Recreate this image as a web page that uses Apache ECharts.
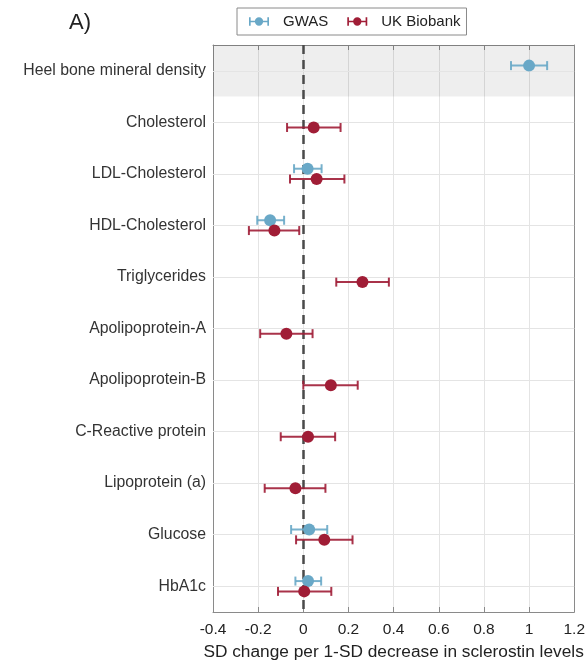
<!DOCTYPE html>
<html>
<head>
<meta charset="utf-8">
<script src="https://cdn.jsdelivr.net/npm/echarts@6/dist/echarts.min.js"></script>
<style>html,body{margin:0;padding:0;background:#fff}#c{width:588px;height:666px}</style>
</head>
<body>
<div id="c"></div>
<script>
const categories = ['Heel bone mineral density','Cholesterol','LDL-Cholesterol','HDL-Cholesterol','Triglycerides','Apolipoprotein-A','Apolipoprotein-B','C-Reactive protein','Lipoprotein (a)','Glucose','HbA1c'];
const xTicks = [-0.4, -0.2, 0, 0.2, 0.4, 0.6, 0.8, 1, 1.2];

const gwasRows = [0, 2, 3, 9, 10];
const gwasMean = [1.00, 0.019, -0.147, 0.026, 0.021];
const gwasLow  = [0.92, -0.041, -0.204, -0.054, -0.035];
const gwasHigh = [1.08, 0.081, -0.085, 0.106, 0.079];

const ukbRows = [1, 2, 3, 4, 5, 6, 7, 8, 9, 10];
const ukbMean = [0.046, 0.059, -0.128, 0.262, -0.075, 0.122, 0.021, -0.035, 0.093, 0.004];
const ukbLow  = [-0.072, -0.059, -0.241, 0.146, -0.191, 0.000, -0.100, -0.171, -0.032, -0.112];
const ukbHigh = [0.165, 0.182, -0.018, 0.379, 0.041, 0.241, 0.141, 0.098, 0.218, 0.124];

const GWAS_COLOR = '#69a8c7';
const UKB_COLOR = '#a01d36';
const FONT = 'Liberation Sans';
const rowIdx = categories.map((_, i) => i);

function build(rows, mean, low, high) {
  return rows.map((r, i) => [mean[i], low[i], high[i], r]);
}
function makeRender(color, offset) {
  return function (params, api) {
    const y = api.value(3) + offset;
    const c = api.coord([api.value(0), y]);
    const lo = api.coord([api.value(1), y]);
    const hi = api.coord([api.value(2), y]);
    const h = 4.5;
    const st = { stroke: color, lineWidth: 2, opacity: 0.9 };
    return {
      type: 'group',
      children: [
        { type: 'line', shape: { x1: lo[0], y1: lo[1], x2: hi[0], y2: hi[1] }, style: st },
        { type: 'line', shape: { x1: lo[0], y1: lo[1] - h, x2: lo[0], y2: lo[1] + h }, style: st },
        { type: 'line', shape: { x1: hi[0], y1: hi[1] - h, x2: hi[0], y2: hi[1] + h }, style: st },
        { type: 'circle', shape: { cx: c[0], cy: c[1], r: 6 }, style: { fill: color } }
      ]
    };
  };
}
const legendIcon = 'path://M0,1H2V11H0Z M22,1H24V11H22Z M0,5H24V7H0Z M17,6A5,5 0 1,1 7,6A5,5 0 1,1 17,6Z';

const axisGray = '#8a8a8a';
const chart = echarts.init(document.getElementById('c'), null, { renderer: 'canvas' });
chart.setOption({
  backgroundColor: '#ffffff',
  animation: false,
  textStyle: { fontFamily: FONT },
  title: {
    text: 'A)', left: 64, top: 7,
    textStyle: { fontSize: 22, fontWeight: 'normal', color: '#222', fontFamily: FONT }
  },
  legend: {
    left: 237, top: 8,
    padding: [6, 6, 6, 12],
    itemGap: 19,
    itemWidth: 20, itemHeight: 10,
    borderColor: '#8a8a8a', borderWidth: 1,
    textStyle: { fontSize: 15, color: '#222', fontFamily: FONT, padding: [0, 0, 0, 9] },
    data: [
      { name: 'GWAS', icon: legendIcon },
      { name: 'UK Biobank', icon: legendIcon }
    ]
  },
  grid: { left: 213, right: 12, top: 45, bottom: 50, containLabel: false },
  xAxis: [
    {
      type: 'value', min: -0.4, max: 1.2, interval: 0.2, position: 'bottom',
      name: 'SD change per 1-SD decrease in sclerostin levels',
      nameLocation: 'middle', nameGap: 32,
      nameTextStyle: { fontSize: 17.3, color: '#222', fontFamily: FONT },
      axisLine: { show: true, onZero: false, lineStyle: { color: axisGray, width: 1 } },
      axisTick: { show: true, inside: true, length: 5, lineStyle: { color: axisGray } },
      axisLabel: {
        fontSize: 15.5, color: '#222', margin: 10, fontFamily: FONT,
        formatter: v => String(parseFloat(v.toFixed(1)))
      },
      splitLine: { show: true, lineStyle: { color: '#e4e4e4', width: 1 } }
    },
    {
      type: 'value', min: -0.4, max: 1.2, interval: 0.2, position: 'top',
      axisLine: { show: true, onZero: false, lineStyle: { color: axisGray, width: 1 } },
      axisTick: { show: true, inside: true, length: 5, lineStyle: { color: axisGray } },
      axisLabel: { show: false },
      splitLine: { show: false }
    }
  ],
  yAxis: [
    {
      type: 'value', min: -0.5, max: 10.5, inverse: true, position: 'left',
      axisLine: { show: true, onZero: false, lineStyle: { color: axisGray, width: 1 } },
      axisTick: { show: true, inside: true, length: 5, lineStyle: { color: axisGray }, customValues: rowIdx },
      axisLabel: {
        customValues: rowIdx, fontSize: 15.8, color: '#333', margin: 7, fontFamily: FONT,
        formatter: v => categories[Math.round(v)]
      },
      splitLine: { show: false }
    },
    {
      type: 'value', min: -0.5, max: 10.5, inverse: true, position: 'right',
      axisLine: { show: true, onZero: false, lineStyle: { color: axisGray, width: 1 } },
      axisTick: { show: true, inside: true, length: 5, lineStyle: { color: axisGray }, customValues: rowIdx },
      axisLabel: { show: false, customValues: rowIdx },
      splitLine: { show: false }
    }
  ],
  series: [
    {
      type: 'line', data: [], silent: true, z: 1,
      markArea: {
        silent: true,
        itemStyle: { color: 'rgba(0,0,0,0.065)' },
        data: [[{ yAxis: -0.5 }, { yAxis: 0.5 }]]
      },
      markLine: {
        silent: true, symbol: ['none', 'none'], label: { show: false },
        lineStyle: { color: '#e4e4e4', width: 1, type: 'solid' },
        data: rowIdx.map(i => ({ yAxis: i }))
      }
    },
    {
      type: 'line', data: [], silent: true, z: 2,
      markLine: {
        silent: true, symbol: ['none', 'none'], label: { show: false },
        lineStyle: { color: '#4a4a4a', width: 2.5, type: [9, 6] },
        data: [{ xAxis: 0 }]
      }
    },
    {
      name: 'GWAS', type: 'custom', z: 5,
      itemStyle: { color: GWAS_COLOR },
      renderItem: makeRender(GWAS_COLOR, -0.1),
      encode: { x: [0, 1, 2], y: 3 },
      data: build(gwasRows, gwasMean, gwasLow, gwasHigh)
    },
    {
      name: 'UK Biobank', type: 'custom', z: 6,
      itemStyle: { color: UKB_COLOR },
      renderItem: makeRender(UKB_COLOR, 0.1),
      encode: { x: [0, 1, 2], y: 3 },
      data: build(ukbRows, ukbMean, ukbLow, ukbHigh)
    }
  ]
});
</script>
</body>
</html>
